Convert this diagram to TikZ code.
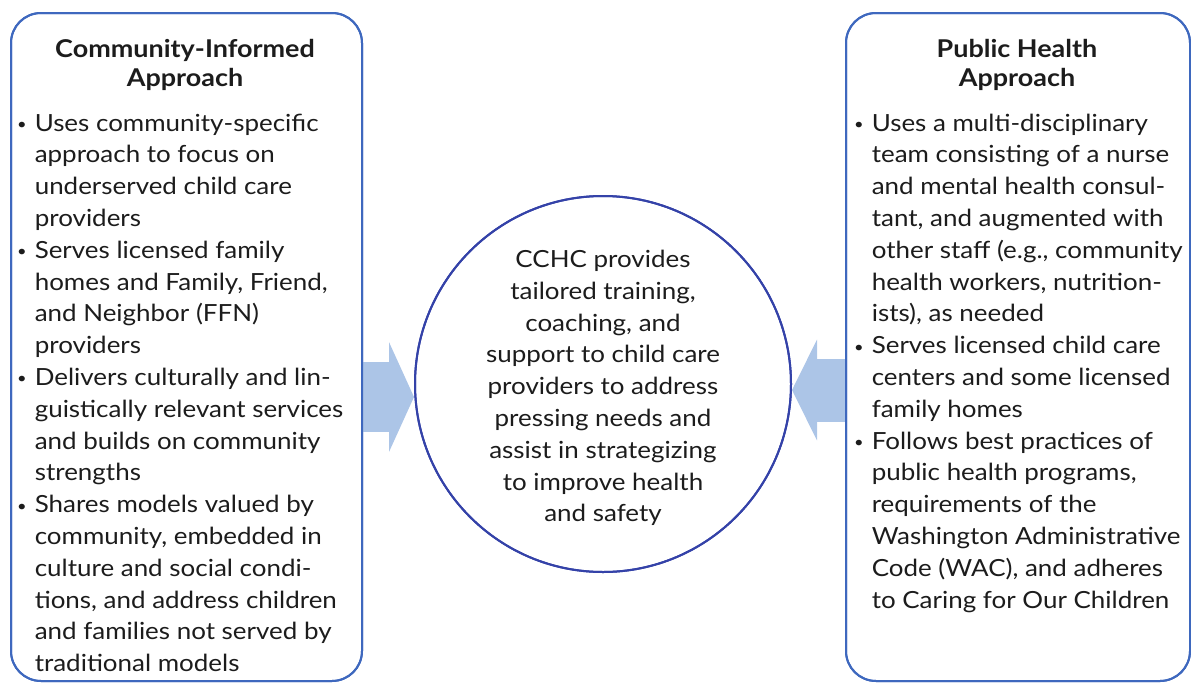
\documentclass[tikz,border=0pt]{standalone}
\usepackage{fontspec}
\setmainfont{Lato}[FakeStretch=1.1]
\usetikzlibrary{arrows.meta}
\definecolor{boxblue}{RGB}{62,104,190}
\definecolor{ringblue}{RGB}{52,66,168}
\definecolor{arrowblue}{RGB}{172,197,231}
\definecolor{ink}{RGB}{28,28,28}
\newcommand{\bodyfont}{\fontsize{23.6}{31.8}\selectfont}
\newcommand{\headfont}{\fontsize{24.5}{28.8}\selectfont\bfseries}
\newcommand{\dotmark}{{\fontsize{15}{15}\selectfont\raisebox{1.5pt}{\textbullet}}}
\begin{document}
\begin{tikzpicture}[x=1pt,y=-1pt,
  panel/.style={draw=boxblue, line width=2pt, rounded corners=30pt, anchor=north west},
  ring/.style={circle, draw=ringblue, line width=2pt, minimum size=376pt, inner sep=0pt},
  heading/.style={align=center, text=ink, font=\headfont, inner sep=0pt, anchor=base},
  listing/.style={text=ink, font=\bodyfont, inner sep=0pt, anchor=base west},
  centre/.style={align=center, text=ink, font=\bodyfont, inner sep=0pt}]
\useasboundingbox (0,0) rectangle (1191,683);

% panels and central ring
\node[panel, minimum width=351pt, minimum height=668pt] (lbox) at (10,12) {};
\node[panel, minimum width=344pt, minimum height=668pt] (rbox) at (845,12) {};
\node[ring] (circ) at (603,384) {};

% block arrows from each panel to the ring
\draw[line width=70pt, arrowblue, -{Triangle[length=25pt,width=109pt]}]
  (lbox.east |- 0,397) -- (circ.west |- 0,397);
\draw[line width=63pt, arrowblue, -{Triangle[length=25pt,width=100pt]}]
  (rbox.west |- 0,390) -- (circ.east |- 0,390);

% redraw outlines above the arrows
\node[panel, minimum width=351pt, minimum height=668pt] at (10,12) {};
\node[panel, minimum width=344pt, minimum height=668pt] at (845,12) {};
\node[ring] at (603,384) {};

% headings (anchored on the baseline of their last line)
\node[heading] (lhead) at (185,86) {Community-Informed\\Approach};
\node[heading] (rhead) at (1017,86) {Public Health\\Approach};

% left list
\node[listing] (llist) at (17,131) {\begin{tabular}[t]{@{}l@{\hspace{8pt}}l@{}}
\dotmark & Uses community-specific\\
 & approach to focus on\\
 & underserved child care\\
 & providers\\
\dotmark & Serves licensed family\\
 & homes and Family, Friend,\\
 & and Neighbor (FFN)\\
 & providers\\
\dotmark & Delivers culturally and lin-\\
 & guistically relevant services\\
 & and builds on community\\
 & strengths\\
\dotmark & Shares models valued by\\
 & community, embedded in\\
 & culture and social condi-\\
 & tions, and address children\\
 & and families not served by\\
 & traditional models
\end{tabular}};

% right list
\node[listing] (rlist) at (854,131) {\begin{tabular}[t]{@{}l@{\hspace{8pt}}l@{}}
\dotmark & Uses a multi-disciplinary\\
 & team consisting of a nurse\\
 & and mental health consul-\\
 & tant, and augmented with\\
 & other staff (e.g., community\\
 & health workers, nutrition-\\
 & ists), as needed\\
\dotmark & Serves licensed child care\\
 & centers and some licensed\\
 & family homes\\
\dotmark & Follows best practices of\\
 & public health programs,\\
 & requirements of the\\
 & Washington Administrative\\
 & Code (WAC), and adheres\\
 & to Caring for Our Children
\end{tabular}};

% centre statement
\node[centre] (ctext) at (603,388) {CCHC provides\\tailored training,\\coaching, and\\support to child care\\providers to address\\pressing needs and\\assist in strategizing\\to improve health\\and safety};
\end{tikzpicture}
\end{document}
